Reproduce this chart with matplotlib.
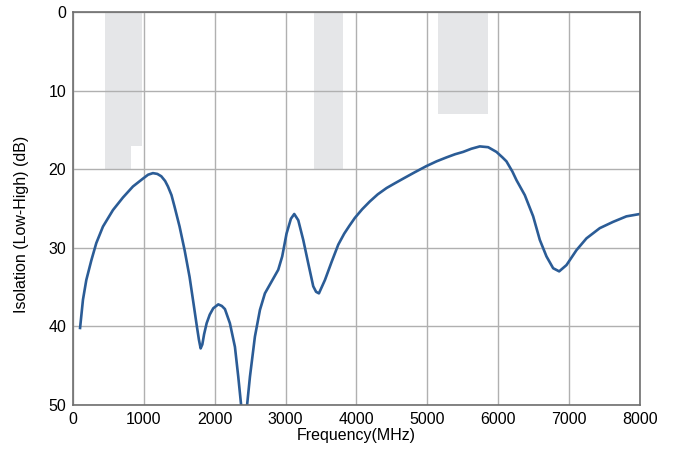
import numpy as np
import matplotlib.pyplot as plt

plt.rcParams['font.family'] = ['Liberation Sans', 'DejaVu Sans']

# measured isolation between low and high ports
freq_mhz = [100, 141, 188, 259, 329, 423, 564, 705, 846, 987, 1060, 1128, 1190,
            1246, 1300, 1340, 1390, 1434, 1504, 1575, 1645, 1701, 1748, 1777,
            1801, 1825, 1850, 1886, 1930, 1979, 2050, 2100, 2144, 2214, 2285,
            2332, 2370, 2410, 2459, 2497, 2567, 2638, 2708, 2802, 2896, 2952,
            3013, 3075, 3122, 3179, 3249, 3320, 3390, 3430, 3470, 3555, 3649,
            3743, 3827, 3900, 3977, 4080, 4189, 4300, 4424, 4540, 4659, 4820,
            4988, 5130, 5270, 5390, 5505, 5620, 5740, 5858, 5975, 6060, 6116,
            6200, 6258, 6375, 6493, 6587, 6681, 6775, 6860, 6963, 7104, 7245,
            7433, 7621, 7809, 8000]
isolation_db = [40.2, 36.6, 34.1, 31.6, 29.4, 27.3, 25.2, 23.6, 22.2, 21.2, 20.7, 20.5, 20.6,
                20.9, 21.5, 22.2, 23.3, 24.8, 27.3, 30.3, 33.7, 37.1, 40.0, 41.7,
                42.8, 42.3, 41.0, 39.6, 38.5, 37.7, 37.2, 37.4, 37.8, 39.6, 42.6,
                46.4, 49.8, 54.0, 49.8, 46.4, 41.3, 37.9, 35.8, 34.3, 32.8, 31.1,
                28.2, 26.3, 25.7, 26.5, 29.0, 32.0, 34.9, 35.6, 35.8, 34.1, 31.8,
                29.6, 28.2, 27.2, 26.2, 25.1, 24.1, 23.2, 22.4, 21.8, 21.2, 20.4,
                19.6, 19.0, 18.5, 18.1, 17.8, 17.4, 17.1, 17.2, 17.8, 18.5, 19.0,
                20.3, 21.4, 23.3, 26.0, 29.0, 31.1, 32.6, 33.0, 32.2, 30.3, 28.8,
                27.5, 26.7, 26.0, 25.7]

# shaded spec bands: start, end, depth (dB)
band_start = [450, 820, 3400, 5150]
band_end = [820, 970, 3810, 5850]
band_depth = [20, 17, 20, 13]

fig = plt.figure(figsize=(6.77, 4.53), dpi=100)
ax = fig.add_axes([0.1078, 0.106, 0.8375, 0.8675])

for s, e, d in zip(band_start, band_end, band_depth):
    ax.fill_between([s, e], 0, d, color='#e5e6e8', linewidth=0, zorder=1)

ax.plot(freq_mhz, isolation_db, color='#2b5c96', linewidth=1.9,
        solid_joinstyle='round', zorder=3)

ax.set_xlim(0, 8000)
ax.set_ylim(50, 0)
ax.set_xticks(np.arange(0, 8001, 1000))
ax.set_yticks(np.arange(0, 51, 10))
ax.grid(True, color='#b0b0b0', linewidth=1.0, zorder=2)
ax.set_axisbelow(False)
ax.tick_params(length=0, labelsize=11.5, pad=5)

for name, sp in ax.spines.items():
    sp.set_color('#6e6e6e')
    sp.set_linewidth(1.2)
    sp.set_zorder(4)

ax.set_xlabel('Frequency(MHz)', fontsize=11.5, labelpad=1)
ax.set_ylabel('Isolation (Low-High) (dB)', fontsize=11.5)
ax.yaxis.set_label_coords(-0.077, 0.46)

fig.savefig('out.png', dpi=100)
